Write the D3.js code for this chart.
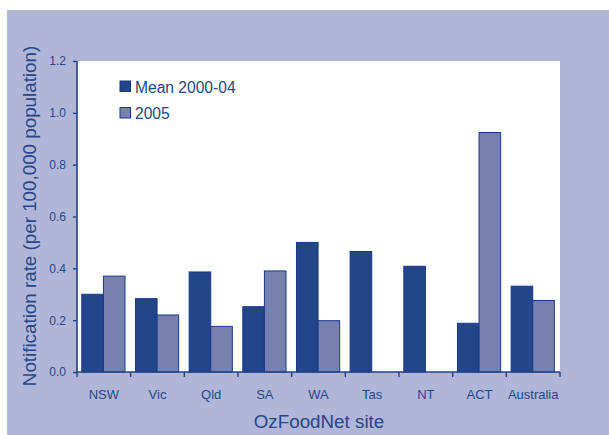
<!DOCTYPE html>
<html>
<head>
<meta charset="utf-8">
<script src="https://cdn.jsdelivr.net/npm/d3@7"></script>
<style>
  body { margin: 0; background: #ffffff; }
  text { font-family: "Liberation Sans", Arial, sans-serif; fill: #24488a; }
</style>
</head>
<body>
<svg></svg>
<script>
var sites = ["NSW", "Vic", "Qld", "SA", "WA", "Tas", "NT", "ACT", "Australia"];
var seriesNames = ["Mean 2000-04", "2005"];
var mean0004 = [0.30, 0.283, 0.386, 0.252, 0.50, 0.465, 0.408, 0.188, 0.331];
var rate2005 = [0.37, 0.22, 0.176, 0.39, 0.198, 0, 0, 0.924, 0.276];
var yTicks = [0, 0.2, 0.4, 0.6, 0.8, 1.0, 1.2];

var screen = { width: 609, height: 435 };
var margins = { top: 61, bottom: 63, left: 77, right: 49 };
var width = screen.width - margins.left - margins.right;
var height = screen.height - margins.top - margins.bottom;

var svg = d3.select("svg")
            .attr("width", screen.width)
            .attr("height", screen.height);

// lavender panel
svg.append("rect")
   .attr("x", 7).attr("y", 10)
   .attr("width", screen.width - 7).attr("height", screen.height - 10)
   .attr("fill", "#b1b5d7");

var plot = svg.append("g")
              .attr("transform", "translate(" + margins.left + "," + margins.top + ")");

plot.append("rect")
    .attr("width", width).attr("height", height)
    .attr("fill", "#ffffff");

var xScale = d3.scaleBand().domain(sites).range([0, width]);
var xInner = d3.scaleBand().domain(seriesNames).range([4.8, 48]);
var yScale = d3.scaleLinear().domain([0, 1.2]).range([height, 0]);
var colors = d3.scaleOrdinal().domain(seriesNames).range(["#23458a", "#7880b0"]);

var table = sites.map(function(s, i) {
  return { site: s, values: [
    { name: seriesNames[0], value: mean0004[i] },
    { name: seriesNames[1], value: rate2005[i] }
  ]};
});

var groups = plot.selectAll("g.site")
                 .data(table)
                 .enter()
                 .append("g")
                 .classed("site", true)
                 .attr("transform", function(d) { return "translate(" + xScale(d.site) + ",0)"; });

groups.selectAll("rect")
      .data(function(d) { return d.values.filter(function(v) { return v.value > 0; }); })
      .enter()
      .append("rect")
      .attr("x", function(d) { return xInner(d.name); })
      .attr("y", function(d) { return yScale(d.value); })
      .attr("width", xInner.bandwidth())
      .attr("height", function(d) { return height - yScale(d.value); })
      .attr("fill", function(d) { return colors(d.name); })
      .attr("stroke", "#17398a")
      .attr("stroke-width", 1);

// axes
var yAxis = d3.axisLeft(yScale).tickValues(yTicks).tickFormat(d3.format(".1f")).tickSize(4).tickPadding(7);
var yG = plot.append("g").call(yAxis);
yG.select(".domain").attr("stroke", "#1d4488").attr("stroke-width", 1.6).attr("d", "M0,0V" + height);
yG.selectAll(".tick line").attr("stroke", "#1d4488").attr("stroke-width", 1.4);
yG.selectAll(".tick text").attr("font-size", 12).style("fill", "#24488a");

var xAxis = d3.axisBottom(xScale).tickSize(0).tickPadding(18);
var xG = plot.append("g").attr("transform", "translate(0," + height + ")").call(xAxis);
xG.select(".domain").attr("stroke", "#1d4488").attr("stroke-width", 1.6).attr("d", "M0,0H" + width);
xG.selectAll(".tick text").attr("font-size", 13).style("fill", "#24488a");

// boundary ticks between sites
var bounds = sites.map(function(s) { return xScale(s); }).concat([width]);
xG.selectAll("line.bound")
  .data(bounds)
  .enter()
  .append("line")
  .classed("bound", true)
  .attr("x1", function(d) { return d; }).attr("x2", function(d) { return d; })
  .attr("y1", 0).attr("y2", 5)
  .attr("stroke", "#1d4488").attr("stroke-width", 1.4);

// titles
svg.append("text")
   .attr("x", margins.left + width / 2 + 0.5)
   .attr("y", 428)
   .attr("text-anchor", "middle")
   .attr("font-size", 18.8)
   .text("OzFoodNet site");

svg.append("text")
   .attr("transform", "translate(36,216) rotate(-90)")
   .attr("text-anchor", "middle")
   .attr("font-size", 18.8)
   .text("Notification rate (per 100,000 population)");

// legend
var legend = svg.selectAll("g.legend")
                .data(seriesNames)
                .enter()
                .append("g")
                .classed("legend", true)
                .attr("transform", function(d, i) { return "translate(120," + (81 + i * 26.5) + ")"; });

legend.append("rect")
      .attr("width", 10.5).attr("height", 10.5)
      .attr("fill", function(d) { return colors(d); })
      .attr("stroke", "#17398a").attr("stroke-width", 1);

legend.append("text")
      .attr("x", 15).attr("y", 11.5)
      .attr("font-size", 15.6)
      .text(function(d) { return d; });
</script>
</body>
</html>
